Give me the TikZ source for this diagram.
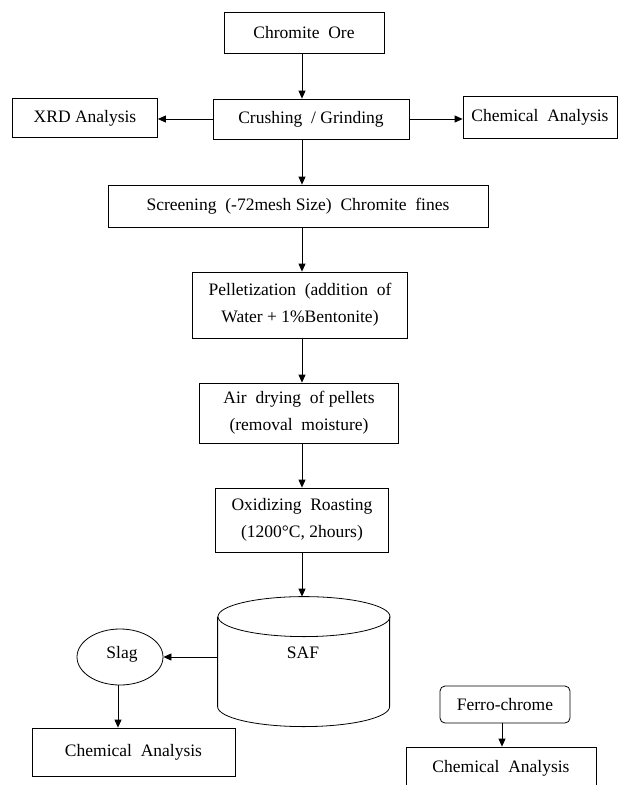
\documentclass[tikz,border=0pt]{standalone}
\usepackage{fontspec}
\setmainfont{Liberation Serif}
\usetikzlibrary{arrows.meta,calc,shapes.geometric}
\begin{document}
\begin{tikzpicture}[x=1pt,y=-1pt,
  line width=0.8pt,
  every node/.style={font=\fontsize{17.5}{27}\selectfont, inner sep=0pt, align=center},
  boxnode/.style={draw, rectangle},
  arr/.style={-{Triangle[length=8pt,width=7pt]}}]
\useasboundingbox (0,0) rectangle (624,785);
\node[boxnode, minimum width=160, minimum height=41] (ore) at (304,32.5) {Chromite\ \ Ore};
\node[boxnode, minimum width=196, minimum height=40] (crush) at (311,119) {Crushing\ \ / Grinding};
\node[boxnode, minimum width=145, minimum height=39] (xrd) at (85,118) {XRD\ Analysis};
\node[boxnode, minimum width=154, minimum height=42] (chem1) at (540,117) {Chemical\ \ Analysis};
\node[boxnode, minimum width=380, minimum height=42] (screen) at (298,206) {Screening\ \ (-72mesh Size)\ \ Chromite\ \ fines};
\node[boxnode, minimum width=215, minimum height=66] (pellet) at (300,305) {Pelletization\ \ (addition\ \ of\\Water + 1\%Bentonite)};
\node[boxnode, minimum width=199, minimum height=60] (air) at (299,413) {Air\ \ drying\ \ of pellets\\(removal\ \ moisture)};
\node[boxnode, minimum width=173, minimum height=64] (oxid) at (302,520) {Oxidizing\ \ Roasting\\(1200°C, 2hours)};
% SAF cylinder
\node[minimum width=172, minimum height=130] (saf) at (304,662) {};
\draw (saf.north west) ++(0,20) coordinate (cl) -- ++(0,90) arc[start angle=180, end angle=360, x radius=86pt, y radius=20pt] -- ++(0,-90);
\draw ($(saf.north)+(0,20)$) ellipse[x radius=86pt, y radius=20pt];
\node at (303,653) {SAF};
\node[draw, ellipse, minimum width=86, minimum height=56] (slag) at (120,657) {};
\node at (122,654) {Slag};
\node[boxnode, minimum width=203, minimum height=48] (chem2) at (133.5,752) {Chemical\ \ Analysis};
\node[boxnode, rounded corners=5pt, minimum width=130, minimum height=37] (ferro) at (505,704.5) {Ferro-chrome};
\node[boxnode, minimum width=190, minimum height=41, text depth=0pt] (chem3) at (501,767.5) {\raisebox{2pt}{Chemical\ \ Analysis}};
% arrows
\coordinate (ax) at (302,0);
\draw[arr] (ax |- ore.south) -- (ax |- crush.north);
\draw[arr] (crush.west) -- (crush.west -| xrd.east);
\draw[arr] (crush.east) -- (crush.east -| chem1.west);
\draw[arr] (ax |- crush.south) -- (ax |- screen.north);
\draw[arr] (ax |- screen.south) -- (ax |- pellet.north);
\draw[arr] (ax |- pellet.south) -- (ax |- air.north);
\draw[arr] (ax |- air.south) -- (ax |- oxid.north);
\draw[arr] (ax |- oxid.south) -- (ax |- saf.north);
\draw[arr] (saf.west |- slag.east) -- (slag.east);
\coordinate (sx) at (118,0);
\draw[arr] (sx |- slag.south) -- (sx |- chem2.north);
\coordinate (fx) at (502,0);
\draw[arr] (fx |- ferro.south) -- (fx |- chem3.north);
\end{tikzpicture}
\end{document}
